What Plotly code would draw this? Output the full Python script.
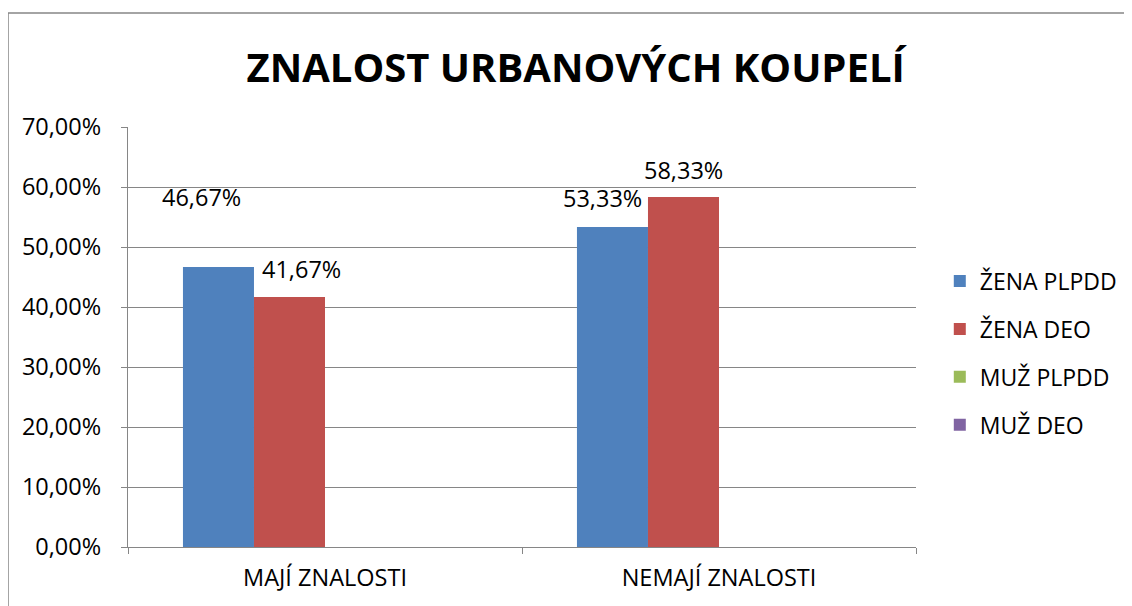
import plotly.graph_objects as go

categories = ["MAJÍ ZNALOSTI", "NEMAJÍ ZNALOSTI"]
series_names = ["ŽENA PLPDD", "ŽENA DEO", "MUŽ PLPDD", "MUŽ DEO"]
zena_plpdd = [0.4667, 0.5333]
zena_deo = [0.4167, 0.5833]
muz_plpdd = [0, 0]
muz_deo = [0, 0]
colors = ["#4F81BD", "#C0504D", "#9BBB59", "#8064A2"]
values = [zena_plpdd, zena_deo, muz_plpdd, muz_deo]
y_ticks = [0, 0.1, 0.2, 0.3, 0.4, 0.5, 0.6, 0.7]

FONT = "Open Sans"
FS = 23.5
fig = go.Figure()
for i, (name, vals, col) in enumerate(zip(series_names, values, colors)):
    fig.add_trace(go.Bar(name=name, x=categories, y=vals, marker_color=col,
                         marker_line_width=0, legendgroup=f"g{i}"))

# data labels (manually offset like in the original)
label_offsets = {
    (0, 0): (-17, 70), (1, 0): (12, 28),
    (0, 1): (-10, 29), (1, 1): (0, 27),
}
bar_shift = {0: -1.5, 1: -0.5}
for si in (0, 1):
    for ci, cat in enumerate(categories):
        dx, dy = label_offsets[(si, ci)]
        v = values[si][ci]
        fig.add_annotation(x=ci + bar_shift[si] * 0.18, y=v, xref="x", yref="y",
                           text=f"{v*100:.2f}%".replace(".", ","),
                           showarrow=False, xshift=dx, yshift=dy,
                           font=dict(family=FONT, size=FS, color="#000"))

fig.update_layout(
    width=1124, height=598,
    margin=dict(l=120, r=216, t=119, b=59),
    paper_bgcolor="white", plot_bgcolor="white",
    barmode="group", bargap=0.279, bargroupgap=0,
    separators=", ",
    title=dict(text="<b>ZNALOST URBANOVÝCH KOUPELÍ</b>", x=0.505, xanchor="center",
               y=0.9, yanchor="middle",
               font=dict(family=FONT, size=40, color="#000")),
    legend=dict(xref="container", yref="container", x=0.829, y=0.423,
                xanchor="left", yanchor="middle",
                font=dict(family=FONT, size=23, color="#000"),
                tracegroupgap=15, itemsizing="constant", traceorder="grouped"),
    font=dict(family=FONT, color="#000"),
    showlegend=True,
)
fig.update_yaxes(range=[0, 0.7], tickvals=y_ticks, tickformat=".2%",
                 showgrid=True, gridcolor="#868686", gridwidth=1.3,
                 showline=True, linecolor="#868686", linewidth=1.3,
                 ticks="outside", ticklen=6, tickcolor="#868686",
                 ticklabelstandoff=15, automargin=False,
                 tickfont=dict(family=FONT, size=FS, color="#000"),
                 zeroline=False)
fig.update_xaxes(showline=True, linecolor="#868686", linewidth=1.3,
                 ticks="outside", ticklen=6, tickcolor="#868686",
                 tickson="boundaries", ticklabelstandoff=10, automargin=False,
                 tickfont=dict(family=FONT, size=FS, color="#000"))

# chart frame
fig.add_shape(type="rect", xref="paper", yref="paper",
              x0=(8 - 128) / 788, x1=2.0, y0=-1.0, y1=(547 - 13) / 420,
              line=dict(color="#868686", width=1.5), fillcolor="rgba(0,0,0,0)",
              layer="below")

fig.write_html("out.html")
